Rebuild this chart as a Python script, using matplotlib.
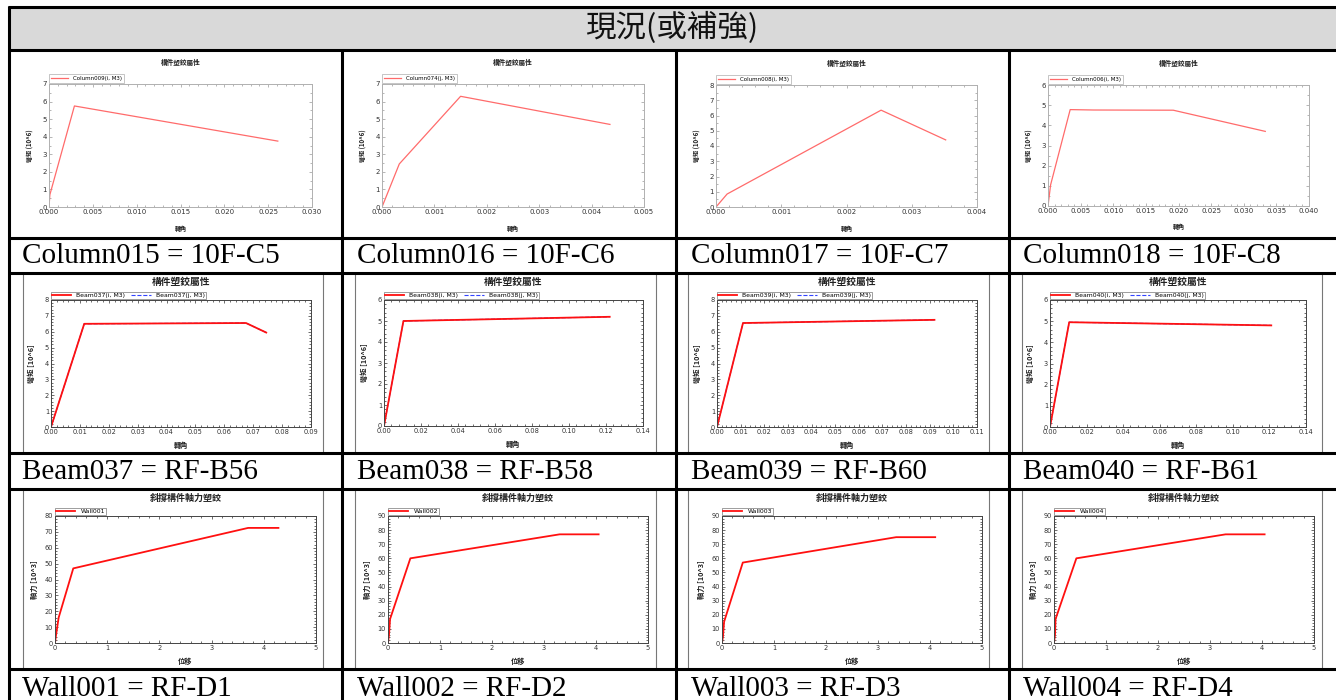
"""
Hinge property table: 12 small pushover hinge curves laid out in a report table
"""

import matplotlib
matplotlib.use('Agg')
import matplotlib.pyplot as plt
from matplotlib.ticker import AutoMinorLocator, MultipleLocator
from matplotlib.patches import Rectangle

CJK = ['Noto Sans CJK TC', 'DejaVu Sans']
SERIF = ['Liberation Serif', 'DejaVu Serif']

# ---- data ----
header_text = '現況(或補強)'

col_captions = ['Column015 = 10F-C5', 'Column016 = 10F-C6',
                'Column017 = 10F-C7', 'Column018 = 10F-C8']
col_names = ['Column009(i, M3)', 'Column074(j, M3)',
             'Column008(i, M3)', 'Column006(i, M3)']
col_x = [
    [0.0, 0.0001, 0.0029, 0.0261],
    [0.0, 0.00033, 0.0015, 0.00435],
    [0.0, 0.00017, 0.00253, 0.00352],
    [0.0, 0.0004, 0.0034, 0.0070, 0.0192, 0.0333],
]
col_y = [
    [0.0, 0.7, 5.75, 3.75],
    [0.0, 2.45, 6.3, 4.7],
    [0.0, 0.85, 6.35, 4.4],
    [0.0, 1.05, 4.78, 4.76, 4.75, 3.7],
]
col_xmax = [0.030, 0.005, 0.004, 0.040]
col_xstep = [0.005, 0.001, 0.001, 0.005]
col_ymax = [7, 7, 8, 6]

beam_captions = ['Beam037 = RF-B56', 'Beam038 = RF-B58',
                 'Beam039 = RF-B60', 'Beam040 = RF-B61']
beam_ids = ['Beam037', 'Beam038', 'Beam039', 'Beam040']
beam_x = [
    [0.0, 0.0115, 0.0675, 0.0745],
    [0.0, 0.0105, 0.122],
    [0.0, 0.011, 0.092],
    [0.0, 0.0105, 0.121],
]
beam_y = [
    [0.0, 6.5, 6.55, 5.95],
    [0.0, 5.0, 5.2],
    [0.0, 6.55, 6.75],
    [0.0, 4.95, 4.8],
]
beam_xmax = [0.09, 0.14, 0.11, 0.14]
beam_xstep = [0.01, 0.02, 0.01, 0.02]
beam_ymax = [8, 6, 8, 6]

wall_captions = ['Wall001 = RF-D1', 'Wall002 = RF-D2',
                 'Wall003 = RF-D3', 'Wall004 = RF-D4']
wall_names = ['Wall001', 'Wall002', 'Wall003', 'Wall004']
wall_x = [
    [0.0, 0.02, 0.07, 0.35, 3.7, 4.28],
    [0.0, 0.02, 0.04, 0.43, 3.3, 4.05],
    [0.0, 0.02, 0.04, 0.40, 3.35, 4.1],
    [0.0, 0.02, 0.03, 0.43, 3.3, 4.05],
]
wall_y = [
    [0.0, 5.0, 16.0, 47.0, 72.5, 72.5],
    [0.0, 6.0, 17.0, 60.0, 77.0, 77.0],
    [0.0, 5.0, 15.0, 57.0, 75.0, 75.0],
    [0.0, 6.0, 17.0, 60.0, 77.0, 77.0],
]
wall_ymax = [80, 90, 90, 90]

# ---- layout (pixels, top-left origin) ----
W, H = 1336, 700
DPI = 100
col_lines_x = [342, 676, 1009]
row_lines_y = [7, 50, 238, 273, 453, 489, 669]

col_axes = [(49, 84, 312, 207), (382, 84, 644, 207),
            (716, 85, 977, 207), (1048, 85, 1309, 206)]
beam_axes = [(51, 300, 311, 427), (384, 300, 643, 426),
             (717, 300, 977, 427), (1050, 300, 1306, 427)]
wall_axes = [(55, 516, 316, 643), (388, 516, 648, 643),
             (722, 516, 982, 643), (1054, 516, 1314, 643)]
frame_x = [(23, 323), (355, 656), (688, 989), (1022, 1322)]
caption_x = [22, 357, 691, 1023]


fig = plt.figure(figsize=(W / DPI, H / DPI), dpi=DPI)

# background axes for the table grid
bg = fig.add_axes([0, 0, 1, 1])
bg.set_xlim(0, W)
bg.set_ylim(H, 0)
bg.axis('off')

bg.add_patch(Rectangle((9, 7), W - 9, 43, facecolor='#d9d9d9', edgecolor='none'))
for y in row_lines_y:
    bg.plot([8, W], [y, y], color='black', lw=2.2, solid_capstyle='butt')
# left border runs through the header, inner separators start below it
bg.plot([9, 9], [6, H], color='black', lw=2.2, solid_capstyle='butt')
for x in col_lines_x:
    bg.plot([x, x], [50, H], color='black', lw=2.2, solid_capstyle='butt')

bg.text(672, 28, header_text, ha='center', va='center', fontsize=22,
        family=CJK, color='#111111')

# gray frames of the pasted chart images (rows 2 and 3)
for top, bottom in [(273, 453), (489, 669)]:
    for x0, x1 in frame_x:
        bg.add_patch(Rectangle((x0, top), x1 - x0, bottom - top,
                               facecolor='white', edgecolor='#777777', lw=0.8))

for row_y, caps in [(256, col_captions), (472, beam_captions), (689, wall_captions)]:
    for x, cap in zip(caption_x, caps):
        bg.text(x, row_y, cap, ha='left', va='center', fontsize=21,
                family=SERIF, color='black')


def px_axes(rect):
    x0, y0, x1, y1 = rect
    return fig.add_axes([x0 / W, 1 - y1 / H, (x1 - x0) / W, (y1 - y0) / H])


def style_axes(ax, spine_color, tick_color, label_size, xminor, yminor):
    for s in ax.spines.values():
        s.set_color(spine_color)
        s.set_linewidth(0.7)
    ax.tick_params(which='both', direction='in', top=True, right=True,
                   colors=tick_color, labelcolor='#333333', width=0.5)
    ax.tick_params(which='major', length=2.5, labelsize=label_size, pad=1.5)
    ax.tick_params(which='minor', length=1.3)
    ax.xaxis.set_minor_locator(AutoMinorLocator(xminor))
    ax.yaxis.set_minor_locator(AutoMinorLocator(yminor))


def add_labels(ax, rect, title, xlabel, ylabel, title_dy, xlabel_dy, ylabel_dx,
               title_size, label_size, weight):
    x0, y0, x1, y1 = rect
    cx = (x0 + x1) / 2
    bg.text(cx, y0 - title_dy, title, ha='center', va='center', fontsize=title_size,
            family=CJK, fontweight=weight, color='#222222', zorder=5)
    bg.text(cx, y1 + xlabel_dy, xlabel, ha='center', va='center', fontsize=label_size,
            family=CJK, fontweight=weight, color='#222222', zorder=5)
    bg.text(x0 - ylabel_dx, (y0 + y1) / 2, ylabel, ha='center', va='center',
            rotation=90, fontsize=label_size, family=CJK, fontweight=weight,
            color='#222222', zorder=5)


# ---- row 1: column hinges ----
for i in range(4):
    rect = col_axes[i]
    ax = px_axes(rect)
    ax.plot(col_x[i], col_y[i], color='#ff6b6b', lw=0.9, label=col_names[i])
    ax.set_xlim(0, col_xmax[i])
    ax.set_ylim(0, col_ymax[i])
    ax.xaxis.set_major_locator(MultipleLocator(col_xstep[i]))
    ax.yaxis.set_major_locator(MultipleLocator(1))
    ax.xaxis.set_major_formatter(plt.FormatStrFormatter('%.3f'))
    style_axes(ax, '#b0b0b0', '#999999', 5.0, 5, 2)
    leg = ax.legend(loc='lower left', bbox_to_anchor=(0, 1.01), fontsize=4.0,
                    frameon=True, fancybox=False, borderpad=0.3, handlelength=3.2,
                    borderaxespad=0.0)
    leg.get_frame().set_edgecolor('#999999')
    leg.get_frame().set_linewidth(0.5)
    add_labels(ax, rect, '構件塑鉸屬性', '轉角', '彎矩 (10^6)',
               22, 21, 19, 4.8, 4.4, 'bold')

# ---- row 2: beam hinges ----
for i in range(4):
    rect = beam_axes[i]
    ax = px_axes(rect)
    ax.plot(beam_x[i], beam_y[i], color='#3344ff', lw=0.8, ls='--',
            label=beam_ids[i] + '(j, M3)')
    ax.plot(beam_x[i], beam_y[i], color='#ff1010', lw=1.3,
            label=beam_ids[i] + '(i, M3)')
    ax.set_xlim(0, beam_xmax[i])
    ax.set_ylim(0, beam_ymax[i])
    ax.xaxis.set_major_locator(MultipleLocator(beam_xstep[i]))
    ax.yaxis.set_major_locator(MultipleLocator(1))
    ax.xaxis.set_major_formatter(plt.FormatStrFormatter('%.2f'))
    style_axes(ax, '#444444', '#333333', 4.8, 5, 5)
    handles, labels = ax.get_legend_handles_labels()
    leg = ax.legend(handles[::-1], labels[::-1], loc='lower left',
                    bbox_to_anchor=(0, 1.005), ncol=2, fontsize=4.4, frameon=True,
                    fancybox=False, borderpad=0.15, handlelength=3.2,
                    columnspacing=1.0, borderaxespad=0.0)
    leg.get_frame().set_edgecolor('#555555')
    leg.get_frame().set_linewidth(0.5)
    add_labels(ax, rect, '構件塑鉸屬性', '轉角', '彎矩 [10^6]',
               18, 18, 20, 7, 5.2, 'bold')

# ---- row 3: wall (brace) axial hinges ----
for i in range(4):
    rect = wall_axes[i]
    ax = px_axes(rect)
    ax.plot(wall_x[i], wall_y[i], color='#ff1010', lw=1.3, label=wall_names[i])
    ax.set_xlim(0, 5)
    ax.set_ylim(0, wall_ymax[i])
    ax.xaxis.set_major_locator(MultipleLocator(1))
    ax.yaxis.set_major_locator(MultipleLocator(10))
    style_axes(ax, '#444444', '#333333', 4.8, 5, 5)
    leg = ax.legend(loc='lower left', bbox_to_anchor=(0, 1.005), fontsize=4.4,
                    frameon=True, fancybox=False, borderpad=0.15, handlelength=3.2,
                    borderaxespad=0.0)
    leg.get_frame().set_edgecolor('#555555')
    leg.get_frame().set_linewidth(0.5)
    add_labels(ax, rect, '斜撐構件軸力塑鉸', '位移', '軸力 [10^3]',
               18, 18, 21, 6.5, 5.2, 'bold')

fig.savefig('out.png', dpi=DPI)
plt.close(fig)
